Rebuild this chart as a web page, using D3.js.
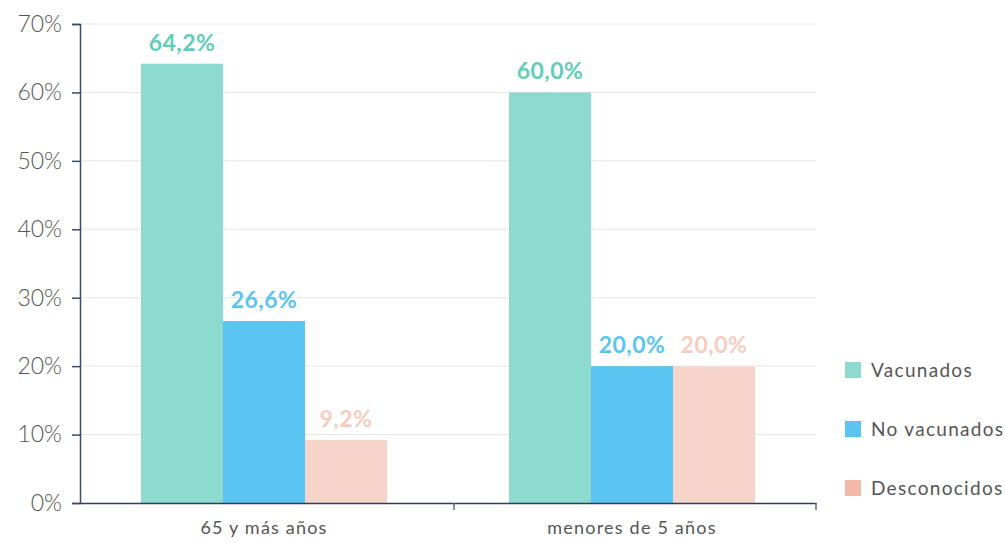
<!DOCTYPE html>
<html>
<head>
<meta charset="utf-8">
<script src="https://cdn.jsdelivr.net/npm/d3@7"></script>
<style>
	body { margin: 0; background: #fff; }
	text { font-family: Lato, 'Open Sans', sans-serif; }
</style>
</head>
<body>
<script>
'use strict';

// data
var groups = ['65 y más años', 'menores de 5 años'],
	seriesNames = ['Vacunados', 'No vacunados', 'Desconocidos'],
	vacunados = [64.2, 60.0],
	noVacunados = [26.6, 20.0],
	desconocidos = [9.2, 20.0],
	yTicks = [0, 10, 20, 30, 40, 50, 60, 70];

var barColors = ['#8ddbcf', '#5bc5f2', '#f6d4ca'],
	labelColors = ['#5fcdb8', '#5bc5f2', '#f5cdc1'],
	legendColors = ['#8ddbcf', '#5bc5f2', '#f2b8a8'];

var values = [vacunados, noVacunados, desconocidos];

var svg = d3.select('body').append('svg')
	.attr('width', 1005)
	.attr('height', 543);

var plot = {left: 80, right: 816, top: 24, bottom: 503};

var x0 = d3.scaleBand()
	.domain(groups)
	.range([plot.left, plot.right])
	.paddingInner(0)
	.paddingOuter(0);

// three bars touching each other, centred in each group
var x1 = d3.scaleBand()
	.domain(seriesNames)
	.range([0, x0.bandwidth()])
	.paddingOuter(0.744);

var y = d3.scaleLinear()
	.domain([0, 70])
	.range([plot.bottom, plot.top]);

// gridlines
svg.append('g')
	.selectAll('line')
	.data(yTicks.slice(1))
	.enter().append('line')
		.attr('x1', plot.left)
		.attr('x2', plot.right)
		.attr('y1', function(d) { return y(d); })
		.attr('y2', function(d) { return y(d); })
		.attr('stroke', '#e6e6e6')
		.attr('stroke-width', 1);

// bars and value labels
var barG = svg.append('g');
groups.forEach(function(g, gi) {
	seriesNames.forEach(function(s, si) {
		var v = values[si][gi],
			bx = x0(g) + x1(s);
		barG.append('rect')
			.attr('x', bx)
			.attr('y', y(v))
			.attr('width', x1.bandwidth())
			.attr('height', y(0) - y(v))
			.attr('fill', barColors[si]);
		barG.append('text')
			.attr('x', bx + x1.bandwidth() / 2)
			.attr('y', y(v) - 13)
			.attr('text-anchor', 'middle')
			.attr('font-size', 23)
			.attr('font-weight', 'bold')
			.attr('letter-spacing', 0.5)
			.attr('fill', labelColors[si])
			.text(v.toFixed(1).replace('.', ',') + '%');
	});
});

// y axis
var yAxis = svg.append('g')
	.attr('transform', 'translate(' + plot.left + ',0)')
	.call(d3.axisLeft(y).tickValues(yTicks).tickSize(8).tickPadding(10)
		.tickFormat(function(d) { return d + '%'; }));
yAxis.select('.domain').attr('stroke', '#3b4a6b').attr('stroke-width', 1.5);
yAxis.selectAll('.tick line').attr('stroke', '#3b4a6b').attr('stroke-width', 1.5);
yAxis.selectAll('.tick text')
	.attr('font-size', 23)
	.attr('font-family', 'Lato, sans-serif')
	.attr('font-weight', 300)
	.attr('fill', '#555');

// x axis
var xAxis = svg.append('g')
	.attr('transform', 'translate(0,' + plot.bottom + ')')
	.call(d3.axisBottom(x0).tickSize(0).tickPadding(18));
xAxis.select('.domain').attr('stroke', '#2e3d5e').attr('stroke-width', 1.5);
xAxis.selectAll('.tick text')
	.attr('font-size', 18)
	.attr('font-family', 'Lato, sans-serif')
	.attr('letter-spacing', 1.2)
	.attr('fill', '#555');

// separator ticks between the groups
svg.append('g')
	.selectAll('line')
	.data([groups[1], null])
	.enter().append('line')
		.attr('x1', function(d) { return d ? x0(d) + 6 : plot.right; })
		.attr('x2', function(d) { return d ? x0(d) + 6 : plot.right; })
		.attr('y1', plot.bottom)
		.attr('y2', plot.bottom + 7)
		.attr('stroke', '#5a6a8a')
		.attr('stroke-width', 1.5);

// legend
var legend = svg.selectAll('.legend')
	.data(seriesNames)
	.enter().append('g')
	.attr('class', 'legend')
	.attr('transform', function(d, i) {
		return 'translate(845,' + (362 + i * 59) + ')';
	});

legend.append('rect')
	.attr('width', 16)
	.attr('height', 16)
	.attr('fill', function(d, i) { return legendColors[i]; });

legend.append('text')
	.attr('x', 26)
	.attr('y', 8)
	.attr('dy', '.35em')
	.attr('font-size', 19)
	.attr('letter-spacing', 1.3)
	.attr('fill', '#555')
	.text(function(d) { return d; });
</script>
</body>
</html>
